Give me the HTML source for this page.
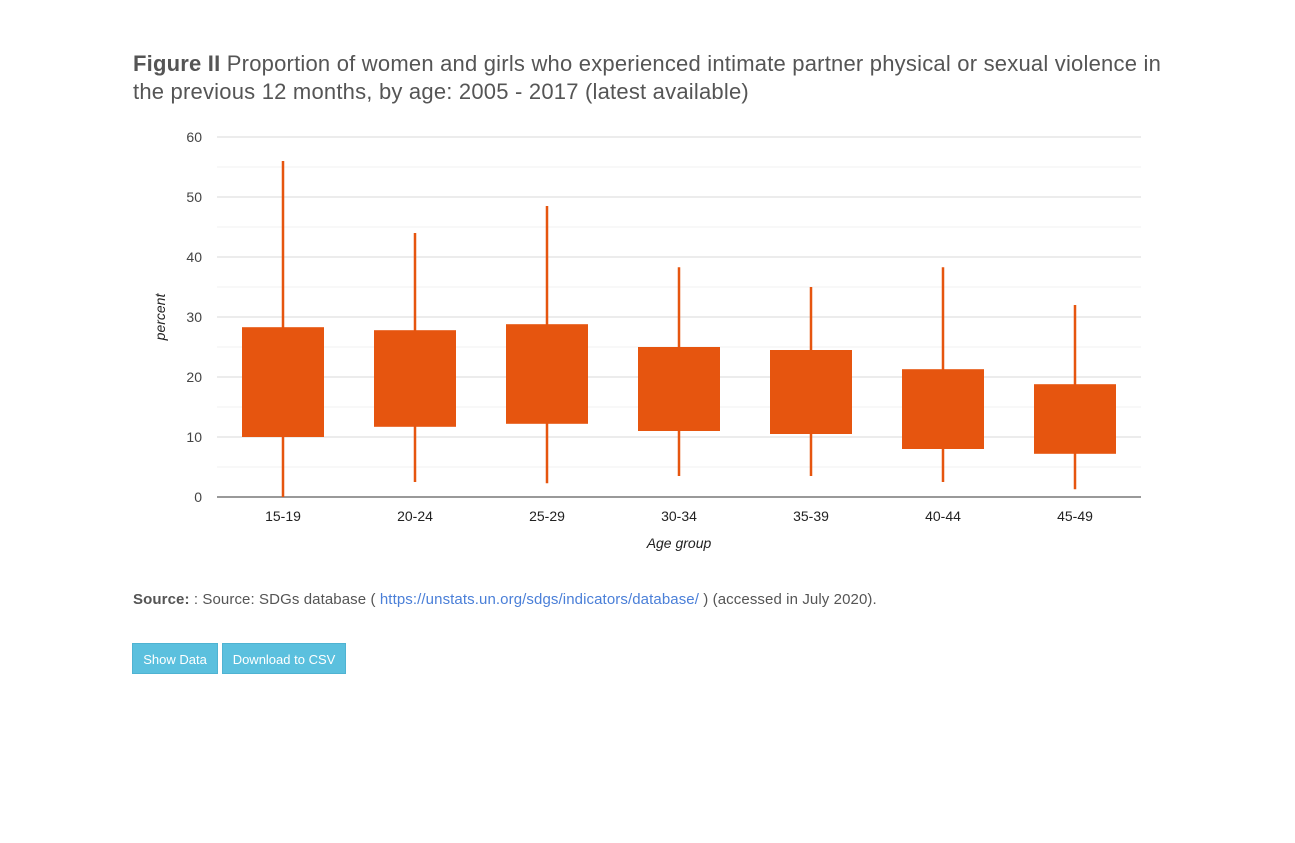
<!DOCTYPE html>
<html><head><meta charset="utf-8">
<style>
body{margin:0;background:#fff;width:1295px;height:843px;overflow:hidden;font-family:"Liberation Sans",sans-serif;}
#title{position:absolute;left:133px;top:50px;font-size:22px;line-height:28px;color:#555;white-space:nowrap;letter-spacing:0.21px}
#title b{color:#555}
#src{position:absolute;left:133px;top:591px;font-size:15px;color:#555;white-space:nowrap;letter-spacing:0.1px}
#src a{color:#4a7fd8;text-decoration:none}
.btn{position:absolute;top:643px;height:31px;background:#5bc0de;color:#fff;font-size:13px;line-height:31px;text-align:center;border:1px solid #4fb3d2;box-sizing:border-box}
</style></head><body>
<div id="title"><b>Figure II</b> Proportion of women and girls who experienced intimate partner physical or sexual violence in<br>the previous 12 months, by age: 2005 - 2017 (latest available)</div>
<svg id="chart" width="1295" height="843" style="position:absolute;left:0;top:0"></svg>
<div id="src"><b>Source:</b> : Source: SDGs database ( <a href="#">https://unstats.un.org/sdgs/indicators/database/</a> ) (accessed in July 2020).</div>
<div class="btn" style="left:132px;width:86px">Show Data</div>
<div class="btn" style="left:222px;width:124px">Download to CSV</div>
<script>
const categories=["15-19","20-24","25-29","30-34","35-39","40-44","45-49"];
const highs=[56,44,48.5,38.3,35,38.3,32];
const q3s=[28.3,27.8,28.8,25,24.5,21.3,18.8];
const q1s=[10,11.7,12.2,11,10.5,8,7.2];
const lows=[0,2.5,2.3,3.5,3.5,2.5,1.3];
const yTicks=[0,10,20,30,40,50,60];
const NS="http://www.w3.org/2000/svg";
const svg=document.getElementById('chart');
const L=217,R=1141,T=137,B=497,yMax=60;
const y=v=>B-(v/yMax)*(B-T);
const band=(R-L)/categories.length;
const x=i=>L+band*(i+0.5);
function mk(t,a,p){const e=document.createElementNS(NS,t);for(const k in a)e.setAttribute(k,a[k]);(p||svg).appendChild(e);return e;}
for(let v=5;v<yMax;v+=10){const g=mk('line',{x1:L,x2:R,y1:y(v),y2:y(v),stroke:'#f0f0f0','stroke-width':1});

}
yTicks.forEach(v=>{
 if(v>0){const g=mk('line',{x1:L,x2:R,y1:y(v),y2:y(v),stroke:'#d8d8d8','stroke-width':1});
 
 }
 const t=mk('text',{x:202,y:y(v)+5,'text-anchor':'end','font-size':14,fill:'#444','font-family':'Liberation Sans, sans-serif'});
 t.textContent=v;
 
 
});
const ax=mk('line',{x1:L,x2:R,y1:B,y2:B,stroke:'#333','stroke-width':1});


categories.forEach((c,i)=>{
 const cx=x(i);
 const w=mk('line',{x1:cx,x2:cx,y1:y(highs[i]),y2:y(lows[i]),stroke:'#e6550f','stroke-width':2.5});
 
 
 const r=mk('rect',{x:cx-41,width:82,y:y(q3s[i]),height:y(q1s[i])-y(q3s[i]),fill:'#e6550f'});
 
 
 const t=mk('text',{x:cx,y:521,'text-anchor':'middle','font-size':14,fill:'#222','font-family':'Liberation Sans, sans-serif'});
 t.textContent=c;
 
 
});
const xt=mk('text',{x:679,y:548,'text-anchor':'middle','font-size':14,'font-style':'italic',fill:'#222','font-family':'Liberation Sans, sans-serif'});
xt.textContent='Age group';


const yt=mk('text',{x:0,y:0,transform:'translate(165,317) rotate(-90)','text-anchor':'middle','font-size':14,'font-style':'italic',fill:'#222','font-family':'Liberation Sans, sans-serif'});
yt.textContent='percent';


</script>
</body></html>
